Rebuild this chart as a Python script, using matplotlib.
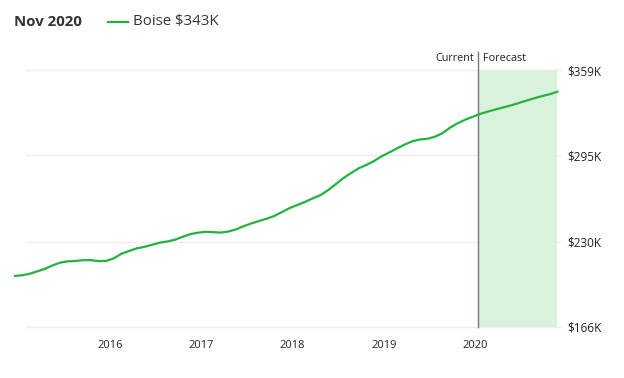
import matplotlib.pyplot as plt
import numpy as np

# monthly values, Dec 2014 .. Nov 2020 (thousands of $)
boise_values = [
    204.3, 204.8, 205.9, 207.8, 209.6, 212.2, 214.3, 215.3, 215.6, 216.2, 216.2, 215.5,
    215.6, 217.5, 220.9, 223.0, 225.0, 226.2, 227.7, 229.3, 230.2, 231.5, 233.7, 235.7,
    236.8, 237.5, 237.2, 236.9, 237.7, 239.3, 241.7, 243.8, 245.6, 247.3, 249.4, 252.3,
    255.3, 257.6, 259.9, 262.5, 264.9, 268.6, 273.1, 277.7, 281.5, 285.1, 287.6, 290.5,
    294.1, 297.0, 300.0, 302.9, 305.4, 306.8, 307.3, 308.9, 311.6, 315.8, 319.1, 321.8,
    324.0, 326.2, 327.9, 329.5, 331.0, 332.5, 334.3, 336.1, 337.8, 339.4, 340.8, 342.7,
]
start_year = 2014.95
end_year = 2020.90
current_year = 2020.03

year_ticks = [2016, 2017, 2018, 2019, 2020]
value_ticks = [166, 230, 295, 359]
value_labels = ["$166K", "$230K", "$295K", "$359K"]

line_color = "#22b33f"
text_color = "#333333"

plt.rcParams['font.family'] = ['Open Sans', 'DejaVu Sans']

x = np.linspace(start_year, end_year, len(boise_values))

fig = plt.figure(figsize=(6.24, 3.78), dpi=100)
ax = fig.add_axes([14 / 624, 51 / 378, 546 / 624, 257 / 378])
x_left = 2016 - 96 / 91.3
x_right = 2016 + 450 / 91.3
ax.set_xlim(x_left, x_right)
ax.set_ylim(value_ticks[0], value_ticks[-1])

# gridlines
for v in value_ticks:
    ax.plot([2016 - 84 / 91.3, x_right], [v, v], color="#eeeeee", lw=1, zorder=0, clip_on=False)

# forecast region
ax.axvspan(current_year, x[-1], color="#d8f2dc", lw=0, zorder=0.5)
ax.plot([current_year, current_year], [value_ticks[0], value_ticks[-1] + 13.5], color="#777777",
        lw=1, clip_on=False, zorder=1)
ax.text(current_year - 0.04, value_ticks[-1] + 9, "Current", ha="right", va="center",
        fontsize=7.8, color="#222222")
ax.text(current_year + 0.05, value_ticks[-1] + 9, "Forecast", ha="left", va="center",
        fontsize=7.8, color="#222222")

ax.plot(x, boise_values, color=line_color, lw=1.6, zorder=2)

for s in ax.spines.values():
    s.set_visible(False)
ax.yaxis.tick_right()
ax.set_yticks(value_ticks)
ax.set_yticklabels(value_labels)
ax.set_xticks(year_ticks)
ax.set_xticklabels([str(y) for y in year_ticks])
ax.tick_params(axis="y", length=0, pad=5, labelsize=8.5, labelcolor="#222222")
ax.tick_params(axis="x", length=0, pad=9, labelsize=8, labelcolor="#222222")

# header
fig.text(14 / 624, 1 - 22 / 378, "Nov 2020", fontsize=10.8, fontweight="bold", color=text_color,
         va="center", ha="left")
fig.add_artist(plt.Line2D([108 / 624, 128 / 624], [1 - 22 / 378, 1 - 22 / 378], color=line_color, lw=1.6))
fig.text(133 / 624, 1 - 22 / 378, "Boise $343K", fontsize=10.8, color=text_color, va="center", ha="left")

fig.savefig("out.png", dpi=100)
